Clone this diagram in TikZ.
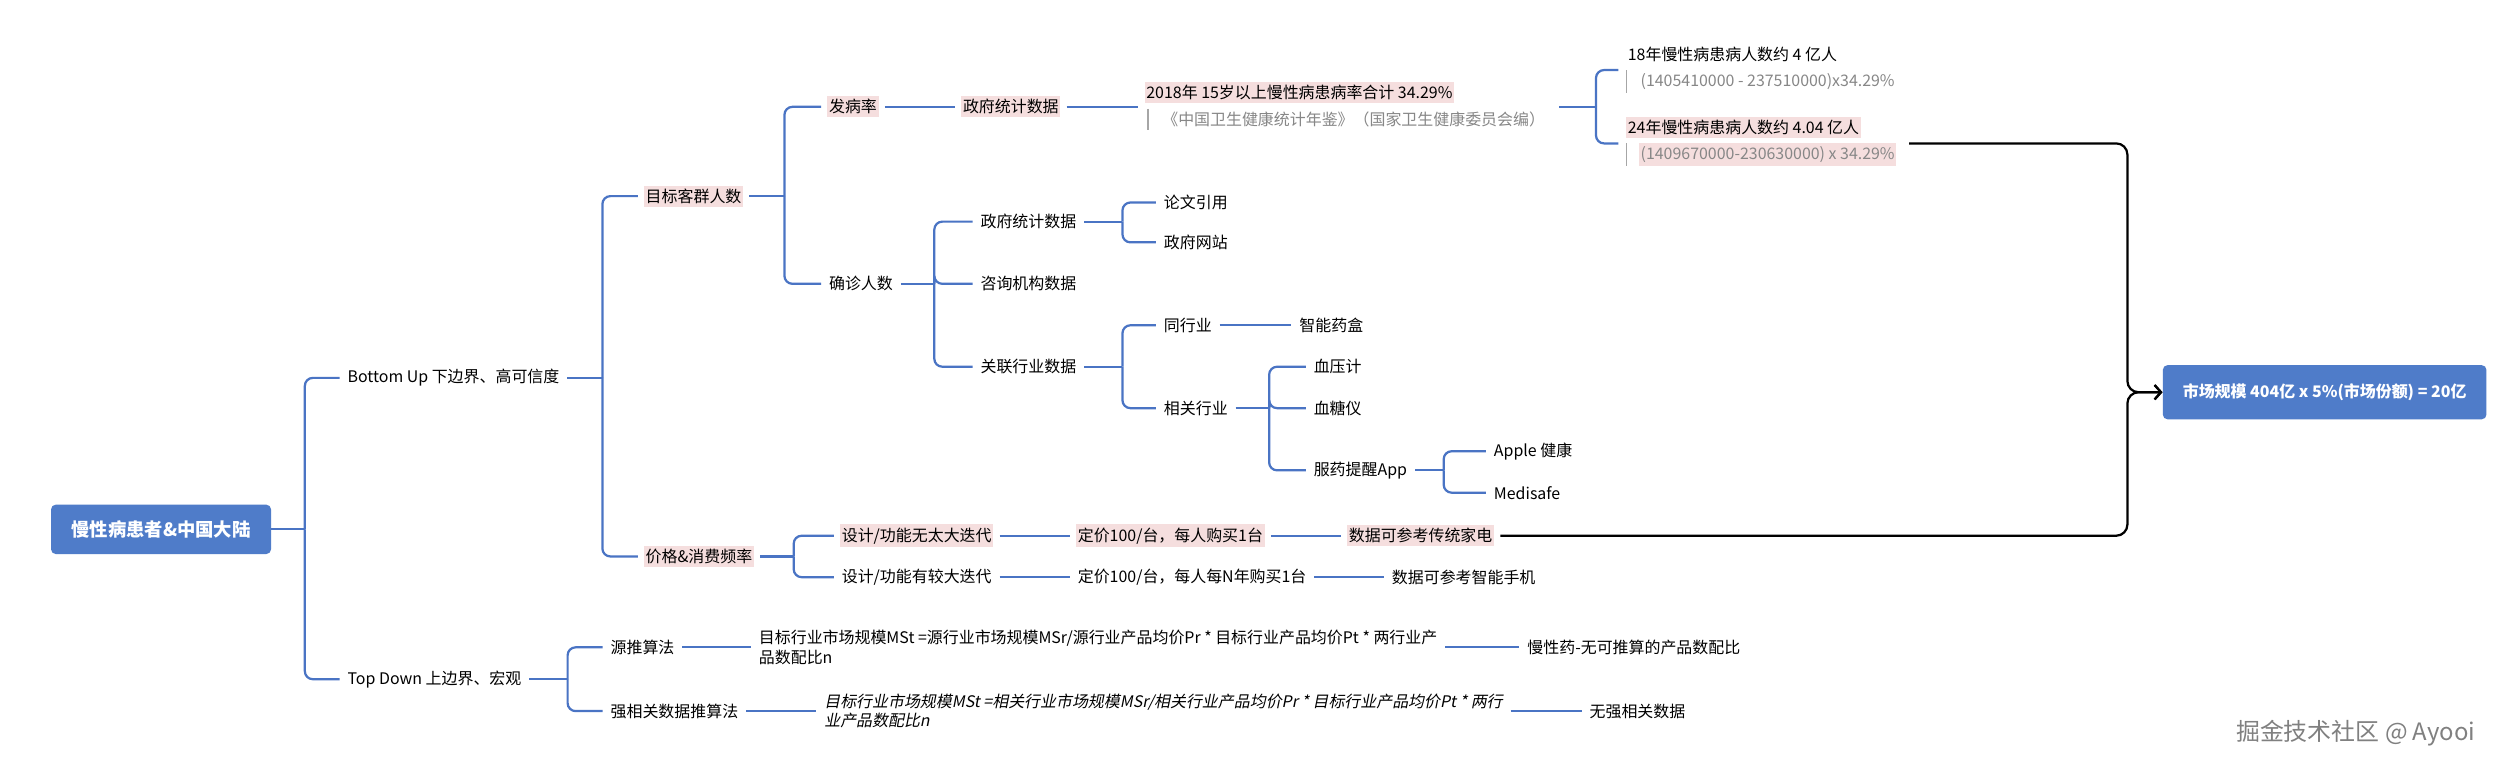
\documentclass[tikz,border=0pt]{standalone}
\usepackage{fontspec}
\setmainfont{Noto Sans CJK SC}
\newfontfamily\slantfont{Noto Sans CJK SC}[FakeSlant=0.2]
\usetikzlibrary{arrows.meta}
\definecolor{lineblue}{RGB}{74,116,196}
\definecolor{boxblue}{RGB}{79,124,201}
\definecolor{pinkbg}{RGB}{245,222,222}
\definecolor{notegray}{RGB}{135,135,135}
% parent -> children with a bracket d to the right of the parent
\newcommand\branch[3]{%
  \draw[link] (#1.east) -- ++(#2,0);
  \foreach \c in {#3}{\draw[link] ([xshift=#2]#1.east) |- (\c.west);}}
\begin{document}
\begin{tikzpicture}[x=1pt,y=-1pt,
  txt/.style={anchor=west, inner xsep=1pt, inner ysep=2pt, outer sep=4pt,
    font=\fontsize{10}{12}\selectfont},
  hl/.style={txt, fill=pinkbg},
  note/.style={anchor=west, inner xsep=1pt, inner ysep=2pt, outer sep=0pt,
    text=notegray, font=\fontsize{10}{12}\selectfont},
  bar/.style={draw=gray!70, line width=1pt},
  topbox/.style={fill=boxblue, rounded corners=3pt, text=white,
    font=\bfseries\fontsize{10}{12}\selectfont},
  link/.style={draw=lineblue, line width=1.4pt, rounded corners=5pt},
  flow/.style={draw=black, line width=1.4pt, rounded corners=7pt,
    -{Straight Barb[length=4pt,width=9pt]}}]
  \fill[white] (0,0) rectangle (1568,483);
  \useasboundingbox (0,0) rectangle (1568,483);

  \node[topbox, minimum width=138pt, minimum height=31pt,
    font=\bfseries\fontsize{11.5}{13}\selectfont] (root) at (101,332) {慢性病患者\&中国大陆};
  \node[txt] (bu) at (213,237) {Bottom Up 下边界、高可信度};
  \node[txt] (td) at (213,426) {Top Down 上边界、宏观};
  \branch{root}{21pt}{bu,td}

  % Bottom Up
  \node[hl] (kq) at (400,123) {目标客群人数};
  \node[hl] (jg) at (400,349) {价格\&消费频率};
  \branch{bu}{22pt}{kq,jg}

  \node[hl] (fbl) at (515,67) {发病率};
  \node[txt] (qz) at (515,178) {确诊人数};
  \branch{kq}{22pt}{fbl,qz}

  \node[hl] (zf1) at (599,67) {政府统计数据};
  \draw[link] (fbl.east) -- (zf1.west);
  \node[hl] (st) at (714,58) {2018年 15岁以上慢性病患病率合计 34.29\%};
  \node[note] (src) at (728,75) {《中国卫生健康统计年鉴》（国家卫生健康委员会编）};
  \draw[bar] ([xshift=-8pt]src.north west) -- ([xshift=-8pt]src.south west);
  \draw[link] (zf1.east) -- (st.west |- zf1.east);

  \node[txt] (n18) at (1016,34) {18年慢性病患病人数约 4 亿人};
  \node[note] (n18f) at (1028,51) {(1405410000 - 237510000)x34.29\%};
  \node[hl] (n24) at (1016,80) {24年慢性病患病人数约 4.04 亿人};
  \node[note, fill=pinkbg] (n24f) at (1028,97) {(1409670000-230630000) x 34.29\%};
  \draw[bar] ([xshift=-8pt]n18f.north west) -- ([xshift=-8pt]n18f.south west);
  \draw[bar] ([xshift=-8pt]n24f.north west) -- ([xshift=-8pt]n24f.south west);
  \draw[link] ([xshift=8pt]src.east |- zf1.east) -- ++(23,0);
  \foreach \c in {n18f,n24f}
    \draw[link] ([xshift=31pt]src.east |- zf1.east) |- ([xshift=-13pt]\c.north west);

  \node[txt] (zf2) at (610,139) {政府统计数据};
  \node[txt] (zx) at (610,178) {咨询机构数据};
  \node[txt] (gl) at (610,230) {关联行业数据};
  \branch{qz}{21pt}{zf2,zx,gl}

  \node[txt] (lw) at (725,127) {论文引用};
  \node[txt] (zw) at (725,152) {政府网站};
  \branch{zf2}{24pt}{lw,zw}

  \node[txt] (thy) at (725,204) {同行业};
  \node[txt] (xg) at (725,256) {相关行业};
  \branch{gl}{24pt}{thy,xg}
  \node[txt] (yh) at (810,204) {智能药盒};
  \draw[link] (thy.east) -- (yh.west);

  \node[txt] (xy) at (819,230) {血压计};
  \node[txt] (xt) at (819,256) {血糖仪};
  \node[txt] (fy) at (819,295) {服药提醒App};
  \branch{xg}{21pt}{xy,xt,fy}

  \node[txt] (ap) at (932,283) {Apple 健康};
  \node[txt] (ms) at (932,309) {Medisafe};
  \branch{fy}{18pt}{ap,ms}

  \node[hl] (d1) at (523,336) {设计/功能无太大迭代};
  \node[txt] (d2) at (523,362) {设计/功能有较大迭代};
  \branch{jg}{21pt}{d1,d2}
  \node[hl] (p1) at (671,336) {定价100/台，每人购买1台};
  \node[txt] (p2) at (671,362) {定价100/台，每人每N年购买1台};
  \node[hl] (r1) at (841,336) {数据可参考传统家电};
  \node[txt] (r2) at (868,362) {数据可参考智能手机};
  \draw[link] (d1.east) -- (p1.west);
  \draw[link] (p1.east) -- (r1.west);
  \draw[link] (d2.east) -- (p2.west);
  \draw[link] (p2.east) -- (r2.west);

  % Top Down
  \node[txt] (yt) at (378,406) {源推算法};
  \node[txt] (qx) at (378,446) {强相关数据推算法};
  \branch{td}{24pt}{yt,qx}
  \node[txt, align=left] (f1) at (471,406)
    {目标行业市场规模MSt =源行业市场规模MSr/源行业产品均价Pr * 目标行业产品均价Pt * 两行业产\\品数配比n};
  \node[txt, align=left, font=\slantfont\fontsize{10}{12}\selectfont] (f2) at (512,446)
    {目标行业市场规模MSt =相关行业市场规模MSr/相关行业产品均价Pr * 目标行业产品均价Pt * 两行\\业产品数配比n};
  \node[txt] (e1) at (953,406) {慢性药-无可推算的产品数配比};
  \node[txt] (e2) at (992,446) {无强相关数据};
  \draw[link] (yt.east) -- (f1.west);
  \draw[link] (f1.east) -- (e1.west);
  \draw[link] (qx.east) -- (f2.west);
  \draw[link] (f2.east) -- (e2.west);

  % result
  \node[topbox, minimum width=203pt, minimum height=34pt] (market) at (1458,246)
    {市场规模 404亿 x 5\%(市场份额) = 20亿};
  \draw[flow] ([xshift=8pt]n24f.north east) -| ([xshift=-22pt]market.west) -- (market.west);
  \draw[flow] (r1.east) -| ([xshift=-22pt]market.west) -- (market.west);

  \node[anchor=east, text=gray, font=\fontsize{15}{18}\selectfont] (mark) at (1556,460)
    {掘金技术社区 @ Ayooi};
\end{tikzpicture}
\end{document}
